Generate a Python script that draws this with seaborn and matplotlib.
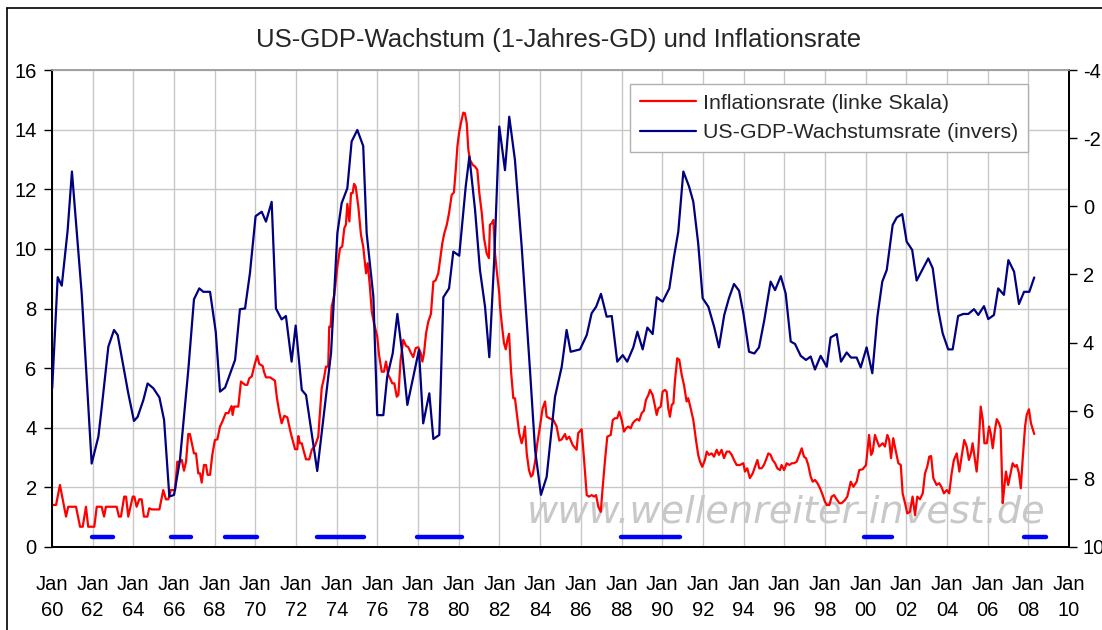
import pandas as pd
import matplotlib
matplotlib.use("Agg")
import matplotlib.pyplot as plt
from matplotlib.lines import Line2D
import seaborn as sns

# Inflationsrate (linke Skala), Jahr als Dezimalzahl
infl_jahr = [
    1960.01, 1960.20, 1960.39, 1960.69, 1960.80, 1961.18, 1961.38, 1961.51, 1961.59, 1961.67,
    1961.78, 1962.08, 1962.20, 1962.44, 1962.56, 1962.65, 1963.18, 1963.29, 1963.39, 1963.55,
    1963.64, 1963.75, 1963.97, 1964.05, 1964.16, 1964.29, 1964.41, 1964.52, 1964.69, 1964.78,
    1964.90, 1965.28, 1965.47, 1965.60, 1965.72, 1965.84, 1966.05, 1966.16, 1966.29, 1966.38,
    1966.49, 1966.59, 1966.70, 1966.78, 1966.98, 1967.08, 1967.19, 1967.28, 1967.36, 1967.47,
    1967.57, 1967.65, 1967.77, 1967.88, 1968.01, 1968.13, 1968.26, 1968.39, 1968.54, 1968.67,
    1968.83, 1968.88, 1968.95, 1969.16, 1969.29, 1969.49, 1969.60, 1969.70, 1969.82, 1969.90,
    1969.98, 1970.09, 1970.19, 1970.36, 1970.42, 1970.52, 1970.72, 1970.96, 1971.05, 1971.17,
    1971.29, 1971.42, 1971.57, 1971.74, 1971.95, 1972.06, 1972.11, 1972.19, 1972.28, 1972.36,
    1972.49, 1972.65, 1972.77, 1972.93, 1973.09, 1973.26, 1973.37, 1973.47, 1973.58, 1973.63,
    1973.70, 1973.75, 1973.88, 1974.03, 1974.16, 1974.27, 1974.37, 1974.45, 1974.52, 1974.62,
    1974.70, 1974.78, 1974.85, 1974.93, 1975.06, 1975.19, 1975.30, 1975.44, 1975.52, 1975.63,
    1975.72, 1975.83, 1975.99, 1976.08, 1976.21, 1976.32, 1976.42, 1976.53, 1976.62, 1976.73,
    1976.83, 1976.95, 1977.03, 1977.14, 1977.27, 1977.40, 1977.52, 1977.65, 1977.76, 1977.88,
    1978.01, 1978.13, 1978.21, 1978.29, 1978.39, 1978.50, 1978.63, 1978.75, 1978.86, 1978.99,
    1979.08, 1979.19, 1979.29, 1979.41, 1979.52, 1979.65, 1979.76, 1979.85, 1979.93, 1980.01,
    1980.11, 1980.22, 1980.30, 1980.39, 1980.47, 1980.55, 1980.68, 1980.80, 1980.91, 1981.01,
    1981.13, 1981.24, 1981.37, 1981.48, 1981.53, 1981.62, 1981.70, 1981.78, 1981.86, 1981.99,
    1982.02, 1982.11, 1982.22, 1982.31, 1982.39, 1982.47, 1982.57, 1982.68, 1982.76, 1982.88,
    1982.97, 1983.09, 1983.17, 1983.25, 1983.34, 1983.45, 1983.55, 1983.63, 1983.75, 1983.86,
    1983.99, 1984.12, 1984.24, 1984.32, 1984.45, 1984.65, 1984.81, 1984.94, 1985.06, 1985.22,
    1985.30, 1985.43, 1985.60, 1985.79, 1985.87, 1986.04, 1986.16, 1986.29, 1986.40, 1986.53,
    1986.65, 1986.75, 1986.86, 1986.98, 1987.07, 1987.19, 1987.30, 1987.47, 1987.57, 1987.68,
    1987.79, 1987.89, 1988.01, 1988.12, 1988.22, 1988.33, 1988.45, 1988.55, 1988.66, 1988.78,
    1988.87, 1988.99, 1989.10, 1989.20, 1989.32, 1989.40, 1989.53, 1989.65, 1989.73, 1989.81,
    1989.93, 1990.02, 1990.14, 1990.22, 1990.30, 1990.38, 1990.47, 1990.55, 1990.63, 1990.74,
    1990.84, 1990.96, 1991.07, 1991.20, 1991.28, 1991.40, 1991.53, 1991.66, 1991.77, 1991.86,
    1991.97, 1992.10, 1992.19, 1992.30, 1992.43, 1992.55, 1992.68, 1992.79, 1992.92, 1993.04,
    1993.17, 1993.30, 1993.42, 1993.53, 1993.66, 1993.82, 1993.99, 1994.07, 1994.18, 1994.31,
    1994.45, 1994.56, 1994.68, 1994.77, 1994.89, 1995.00, 1995.10, 1995.22, 1995.33, 1995.43,
    1995.55, 1995.66, 1995.79, 1995.87, 1995.99, 1996.12, 1996.25, 1996.37, 1996.48, 1996.61,
    1996.74, 1996.86, 1996.97, 1997.07, 1997.18, 1997.30, 1997.40, 1997.51, 1997.63, 1997.76,
    1997.89, 1998.00, 1998.09, 1998.22, 1998.33, 1998.45, 1998.58, 1998.71, 1998.82, 1998.99,
    1999.10, 1999.27, 1999.40, 1999.56, 1999.69, 1999.86, 2000.02, 2000.17, 2000.27, 2000.35,
    2000.46, 2000.58, 2000.67, 2000.84, 2000.95, 2001.07, 2001.16, 2001.25, 2001.36, 2001.49,
    2001.61, 2001.73, 2001.82, 2001.94, 2002.05, 2002.18, 2002.31, 2002.43, 2002.54, 2002.67,
    2002.81, 2002.92, 2003.03, 2003.13, 2003.22, 2003.33, 2003.49, 2003.62, 2003.74, 2003.85,
    2003.99, 2004.11, 2004.23, 2004.34, 2004.48, 2004.61, 2004.72, 2004.85, 2004.97, 2005.08,
    2005.18, 2005.26, 2005.38, 2005.46, 2005.54, 2005.66, 2005.76, 2005.84, 2005.96, 2006.07,
    2006.15, 2006.25, 2006.36, 2006.45, 2006.56, 2006.64, 2006.74, 2006.82, 2006.90, 2007.01,
    2007.13, 2007.23, 2007.34, 2007.43, 2007.54, 2007.63, 2007.72, 2007.84, 2007.92, 2008.03,
    2008.13, 2008.29,
]
infl_rate = [
    1.41, 1.41, 2.08, 1.02, 1.35, 1.35, 0.68, 0.68, 1.02, 1.35,
    0.68, 0.68, 1.35, 1.35, 1.02, 1.35, 1.35, 1.02, 1.02, 1.69,
    1.69, 1.02, 1.69, 1.69, 1.35, 1.60, 1.60, 1.02, 1.02, 1.30,
    1.26, 1.26, 1.91, 1.60, 1.60, 1.91, 1.91, 2.86, 2.86, 2.92,
    2.56, 2.86, 3.79, 3.79, 3.14, 3.14, 2.47, 2.47, 2.16, 2.75,
    2.75, 2.42, 2.42, 3.09, 3.59, 3.61, 4.04, 4.23, 4.49, 4.49,
    4.73, 4.43, 4.71, 4.71, 5.55, 5.44, 5.44, 5.66, 5.72, 5.94,
    6.16, 6.41, 6.14, 6.07, 5.88, 5.69, 5.69, 5.58, 5.04, 4.54,
    4.15, 4.40, 4.35, 3.82, 3.28, 3.28, 3.72, 3.48, 3.48, 3.26,
    2.94, 2.94, 3.26, 3.39, 3.70, 5.33, 5.66, 6.05, 6.05, 7.39,
    7.39, 8.06, 8.46, 9.41, 10.02, 10.08, 10.69, 10.81, 11.51, 10.92,
    11.87, 11.87, 12.18, 12.09, 11.42, 10.47, 10.08, 9.18, 9.52, 8.73,
    7.90, 7.51, 7.06, 6.44, 5.88, 5.88, 6.22, 5.77, 5.66, 5.49,
    5.49, 5.04, 5.10, 6.28, 6.95, 6.75, 6.70, 6.50, 6.37, 6.67,
    6.70, 6.50, 6.22, 6.50, 7.17, 7.56, 7.82, 8.90, 8.94, 9.18,
    9.63, 10.19, 10.53, 10.81, 11.20, 11.81, 11.89, 12.65, 13.43, 13.88,
    14.24, 14.57, 14.55, 14.22, 13.32, 12.99, 12.82, 12.76, 12.65, 11.87,
    11.20, 10.36, 9.85, 9.69, 10.81, 10.86, 10.97, 9.85, 9.30, 8.51,
    8.12, 7.51, 6.84, 6.63, 6.95, 7.15, 5.88, 4.99, 4.99, 4.32,
    3.82, 3.48, 3.70, 4.04, 3.14, 2.58, 2.36, 2.42, 2.86, 3.48,
    4.04, 4.65, 4.88, 4.37, 4.32, 4.26, 4.04, 3.57, 3.61, 3.79,
    3.61, 3.70, 3.42, 3.26, 3.82, 3.95, 2.92, 1.74, 1.69, 1.74,
    1.69, 1.74, 1.35, 1.18, 1.97, 2.92, 3.70, 3.76, 4.26, 4.32,
    4.32, 4.54, 4.26, 3.87, 3.98, 4.04, 3.98, 4.15, 4.24, 4.29,
    4.24, 4.49, 4.57, 4.93, 5.10, 5.27, 5.10, 4.71, 4.43, 4.65,
    4.71, 5.21, 5.27, 5.21, 4.65, 4.37, 4.77, 4.82, 5.60, 6.33,
    6.28, 5.77, 5.44, 4.88, 4.99, 4.65, 4.26, 3.59, 3.09, 2.86,
    2.69, 2.92, 3.20, 3.09, 3.14, 3.03, 3.26, 3.09, 3.26, 2.98,
    3.20, 3.20, 3.09, 2.92, 2.75, 2.75, 2.81, 2.53, 2.64, 2.31,
    2.47, 2.69, 2.92, 2.64, 2.64, 2.75, 2.92, 3.14, 3.09, 2.92,
    2.81, 2.64, 2.58, 2.75, 2.58, 2.81, 2.75, 2.81, 2.81, 2.86,
    3.09, 3.31, 3.03, 2.98, 2.75, 2.36, 2.19, 2.25, 2.14, 1.97,
    1.74, 1.52, 1.41, 1.41, 1.69, 1.74, 1.60, 1.47, 1.47, 1.58,
    1.69, 2.19, 2.02, 2.19, 2.58, 2.61, 2.75, 3.76, 3.09, 3.20,
    3.76, 3.53, 3.37, 3.48, 3.37, 3.76, 3.59, 2.98, 3.65, 3.20,
    2.81, 2.75, 1.80, 1.47, 1.13, 1.18, 1.69, 1.07, 1.69, 1.60,
    1.80, 2.47, 2.69, 3.03, 3.05, 2.31, 2.08, 2.14, 2.00, 1.80,
    1.91, 1.80, 2.47, 2.92, 3.14, 2.53, 3.03, 3.59, 3.37, 2.92,
    3.14, 3.48, 2.92, 2.53, 3.20, 4.71, 4.26, 3.48, 3.48, 4.04,
    3.82, 3.31, 3.93, 4.29, 4.15, 3.98, 1.47, 2.02, 2.53, 2.08,
    2.47, 2.81, 2.69, 2.75, 2.47, 1.97, 2.92, 4.04, 4.43, 4.62,
    4.15, 3.79,
]

# US-GDP-Wachstumsrate (1-Jahres-GD), rechte Skala invers
gdp_jahr = [
    1960.01, 1960.28, 1960.48, 1960.77, 1960.98, 1961.46, 1961.95, 1962.28, 1962.44, 1962.77,
    1963.05, 1963.23, 1963.51, 1963.75, 1964.03, 1964.21, 1964.49, 1964.70, 1964.98, 1965.28,
    1965.51, 1965.77, 1966.00, 1966.29, 1966.70, 1966.98, 1967.24, 1967.44, 1967.77, 1968.05,
    1968.26, 1968.51, 1969.00, 1969.24, 1969.49, 1969.73, 1970.01, 1970.31, 1970.52, 1970.80,
    1971.01, 1971.29, 1971.50, 1971.78, 1971.98, 1972.28, 1972.49, 1973.04, 1973.72, 1974.03,
    1974.24, 1974.52, 1974.73, 1975.01, 1975.30, 1975.47, 1975.80, 1975.99, 1976.29, 1976.48,
    1976.75, 1976.98, 1977.22, 1977.47, 1978.04, 1978.25, 1978.55, 1978.75, 1979.04, 1979.24,
    1979.52, 1979.73, 1980.02, 1980.34, 1980.52, 1980.80, 1981.04, 1981.29, 1981.50, 1981.74,
    1981.99, 1982.27, 1982.48, 1982.76, 1983.09, 1983.50, 1983.75, 1984.04, 1984.32, 1984.73,
    1985.06, 1985.30, 1985.50, 1985.96, 1986.29, 1986.53, 1986.75, 1986.99, 1987.27, 1987.52,
    1987.79, 1988.06, 1988.28, 1988.58, 1988.78, 1989.04, 1989.27, 1989.53, 1989.73, 1990.02,
    1990.35, 1990.58, 1990.79, 1991.04, 1991.32, 1991.53, 1991.77, 1991.99, 1992.27, 1992.55,
    1992.79, 1993.05, 1993.28, 1993.53, 1993.78, 1993.99, 1994.27, 1994.53, 1994.76, 1995.02,
    1995.33, 1995.55, 1995.83, 1996.07, 1996.32, 1996.53, 1996.81, 1997.07, 1997.30, 1997.51,
    1997.79, 1998.09, 1998.28, 1998.58, 1998.79, 1999.07, 1999.28, 1999.56, 1999.76, 2000.05,
    2000.33, 2000.58, 2000.82, 2001.04, 2001.33, 2001.53, 2001.80, 2002.02, 2002.29, 2002.51,
    2003.08, 2003.30, 2003.57, 2003.79, 2004.06, 2004.28, 2004.55, 2004.80, 2005.05, 2005.33,
    2005.54, 2005.82, 2006.03, 2006.31, 2006.52, 2006.80, 2007.02, 2007.30, 2007.54, 2007.79,
    2008.05, 2008.29,
]
gdp_wachstum = [
    5.34, 2.08, 2.33, 0.70, -1.02, 2.56, 7.55, 6.76, 5.93, 4.12,
    3.63, 3.78, 4.71, 5.49, 6.30, 6.18, 5.69, 5.20, 5.34, 5.61,
    6.27, 8.52, 8.47, 7.45, 4.81, 2.73, 2.41, 2.51, 2.51, 3.68,
    5.44, 5.32, 4.51, 3.02, 3.00, 1.97, 0.29, 0.16, 0.45, -0.13,
    3.00, 3.32, 3.22, 4.56, 3.50, 5.39, 5.54, 7.77, 4.30, 0.79,
    -0.09, -0.53, -1.90, -2.24, -1.77, 0.79, 2.65, 6.13, 6.13, 5.00,
    4.32, 3.16, 4.32, 5.83, 4.22, 6.37, 5.49, 6.83, 6.71, 2.67,
    2.41, 1.33, 1.45, -0.58, -1.46, 0.11, 1.87, 2.95, 4.43, 1.58,
    -2.34, -1.06, -2.63, -1.36, 1.17, 4.81, 7.15, 8.47, 7.94, 5.59,
    4.71, 3.63, 4.27, 4.20, 3.78, 3.14, 2.95, 2.57, 3.24, 3.22,
    4.56, 4.37, 4.56, 4.14, 3.68, 4.20, 3.56, 3.75, 2.67, 2.80,
    2.41, 1.48, 0.75, -1.02, -0.58, -0.13, 1.09, 2.70, 2.95, 3.53,
    4.14, 3.19, 2.70, 2.28, 2.48, 3.14, 4.27, 4.32, 4.14, 3.34,
    2.21, 2.46, 2.05, 2.56, 3.97, 4.04, 4.39, 4.51, 4.41, 4.79,
    4.39, 4.71, 3.85, 3.75, 4.56, 4.29, 4.44, 4.44, 4.73, 4.14,
    4.90, 3.24, 2.21, 1.87, 0.55, 0.33, 0.23, 1.04, 1.28, 2.18,
    1.53, 1.82, 3.04, 3.73, 4.20, 4.20, 3.22, 3.16, 3.16, 3.02,
    3.19, 2.93, 3.31, 3.19, 2.41, 2.60, 1.58, 1.92, 2.87, 2.51,
    2.51, 2.09,
]

# blaue Balken unten (Zeitraeume)
balken_start = [1961.98, 1965.84, 1968.50, 1973.01, 1977.93, 1987.96, 1999.94, 2007.79]
balken_ende = [1963.01, 1966.83, 1970.06, 1975.35, 1980.17, 1990.88, 2001.28, 2008.85]

x_ticks = list(range(1960, 2011, 2))
x_labels = ["Jan\n%02d" % (j % 100) for j in x_ticks]
links_ticks = list(range(0, 17, 2))
rechts_ticks = list(range(-4, 11, 2))

titel = "US-GDP-Wachstum (1-Jahres-GD) und Inflationsrate"
label_infl = "Inflationsrate (linke Skala)"
label_gdp = "US-GDP-Wachstumsrate (invers)"

df_infl = pd.DataFrame({"Jahr": infl_jahr, "Inflation": infl_rate})
df_gdp = pd.DataFrame({"Jahr": gdp_jahr, "GDP": gdp_wachstum})

sns.set_theme(style="whitegrid")
plt.rcParams["font.family"] = ["Liberation Sans", "DejaVu Sans"]
plt.rcParams["axes.unicode_minus"] = False

fig = plt.figure(figsize=(11.02, 6.30), dpi=100)
fig.patch.set_facecolor("white")
ax = fig.add_axes([52 / 1102, 83 / 630, 1017 / 1102, 477 / 630])
ax2 = ax.twinx()

# Wasserzeichen
ax.text(0.722, 0.072, "www.wellenreiter-invest.de", transform=ax.transAxes,
        ha="center", va="center", fontsize=27.5, style="italic",
        family="DejaVu Sans", color="#c8c8c8", zorder=0)

sns.lineplot(data=df_infl, x="Jahr", y="Inflation", ax=ax, color="#ff0000",
             linewidth=1.6, legend=False, zorder=3)
sns.lineplot(data=df_gdp, x="Jahr", y="GDP", ax=ax2, color="#000080",
             linewidth=1.6, legend=False, zorder=3)

bars = ax.hlines([0.32] * len(balken_start), balken_start, balken_ende,
                 color="#0000ff", linewidth=3.2, zorder=4)
bars.set_capstyle("round")

# Achsen
ax.set_xlim(1960, 2010)
ax.set_ylim(0, 16)
ax2.set_ylim(10, -4)
ax.set_xticks(x_ticks)
ax.set_xticklabels(x_labels, linespacing=1.45)
ax.set_yticks(links_ticks)
ax2.set_yticks(rechts_ticks)
ax.set_xlabel("")
ax.set_ylabel("")
ax2.set_ylabel("")

ax.grid(True, color="#c8c8c8", linewidth=1)
ax2.grid(False)
ax.set_facecolor("white")
ax.set_axisbelow(True)

for a in (ax, ax2):
    for side in ("left", "bottom", "right"):
        a.spines[side].set_color("black")
        a.spines[side].set_linewidth(1.3)
    a.spines["top"].set_color("#a0a0a0")
    a.spines["top"].set_linewidth(1.2)

ax.tick_params(axis="x", which="major", length=6, width=1, color="black",
               direction="out", pad=14, labelsize=14.5, labelcolor="black")
ax.tick_params(axis="y", which="major", length=6, width=1, color="black",
               direction="out", pad=5, labelsize=14.5, labelcolor="black")
ax2.tick_params(axis="y", which="major", length=6, width=1, color="black",
                direction="out", pad=4, labelsize=14.5, labelcolor="black")

# Legende
handles = [Line2D([], [], color="#ff0000", linewidth=1.6),
           Line2D([], [], color="#000080", linewidth=1.6)]
leg = ax2.legend(handles, [label_infl, label_gdp], loc="upper right",
                 bbox_to_anchor=((1028 - 52) / 1017, (547 - 84) / 477),
                 fontsize=15.4, frameon=True, fancybox=False, framealpha=1,
                 edgecolor="#b0b0b0", handlelength=2.6, handletextpad=0.35,
                 labelspacing=0.5, borderpad=0.45, borderaxespad=0)
leg.get_frame().set_linewidth(1)

fig.text(0.507, 1 - 40 / 630, titel, ha="center", va="center", fontsize=18.5)

# Rahmen des Diagramms
fig.add_artist(Line2D([7 / 1102, 7 / 1102], [0, 1 - 8 / 630],
                      transform=fig.transFigure, color="black", linewidth=1.2))
fig.add_artist(Line2D([7 / 1102, 1], [1 - 8 / 630, 1 - 8 / 630],
                      transform=fig.transFigure, color="black", linewidth=1.2))

plt.savefig("out.png", dpi=100)
